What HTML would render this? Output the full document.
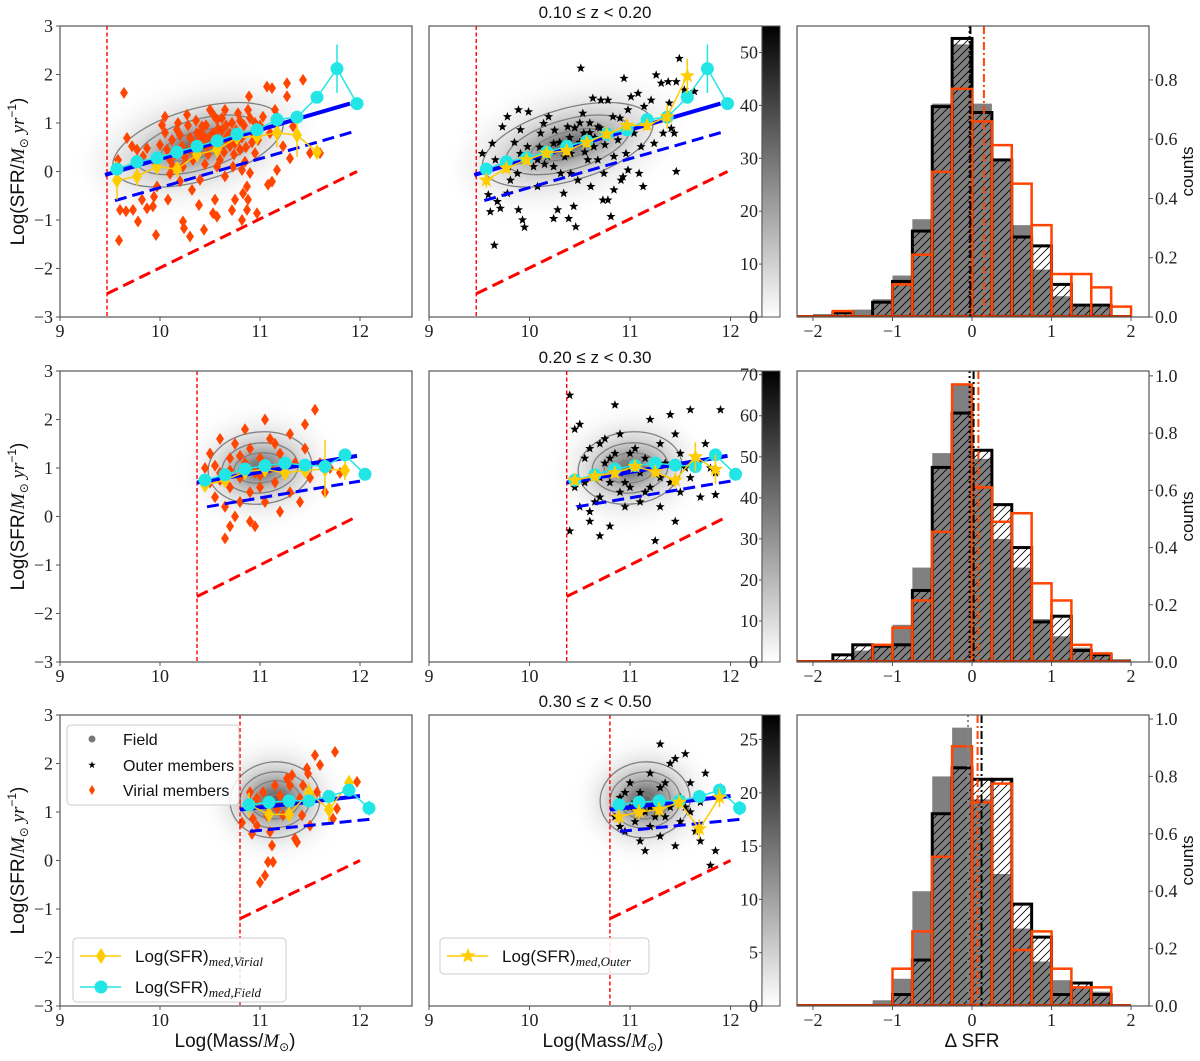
<!DOCTYPE html>
<html><head><meta charset="utf-8">
<style>
html,body{margin:0;padding:0;background:#fff;}
svg{display:block;}
text{font-family:"Liberation Serif",serif;}
.sans{font-family:"Liberation Sans","DejaVu Sans",sans-serif;}
</style></head>
<body>
<svg id="fig" width="1200" height="1061" viewBox="0 0 1200 1061" xmlns="http://www.w3.org/2000/svg">
<defs>
<pattern id="hatch" patternUnits="userSpaceOnUse" width="8" height="8">
<path d="M-2,10 L10,-2 M-2,2 L2,-2 M6,10 L10,6" stroke="#000" stroke-width="0.8"/>
</pattern>
<filter id="blur" x="-50%" y="-50%" width="200%" height="200%"><feGaussianBlur stdDeviation="9"/></filter>
<linearGradient id="cbar" x1="0" y1="1" x2="0" y2="0"><stop offset="0" stop-color="#fff"/><stop offset="1" stop-color="#000"/></linearGradient>
</defs>
</svg>
<script>
// ---------- data ----------
const rowTitles = ["0.10 ≤ z < 0.20","0.20 ≤ z < 0.30","0.30 ≤ z < 0.50"];
const massTicks = [9,10,11,12];
const sfrTicks = [-3,-2,-1,0,1,2,3];
const dsfrTicks = [-2,-1,0,1,2];
const countTicks = [[0,0.2,0.4,0.6,0.8],[0,0.2,0.4,0.6,0.8,1.0],[0,0.2,0.4,0.6,0.8,1.0]];
const cbarMax = [55,70.9,27.3];
const cbarTicks = [[0,10,20,30,40,50],[0,10,20,30,40,50,60,70],[0,5,10,15,20,25]];
const histStart = -2.25, histStep = 0.25;
const histYmax = [0.982,1.017,1.014];

const grayHist = [
 [0.005,0.01,0.02,0.025,0.06,0.14,0.33,0.72,0.92,0.72,0.53,0.31,0.16,0.07,0.035,0.035,0.005],
 [0,0,0.01,0.04,0.05,0.13,0.33,0.73,0.97,0.71,0.43,0.33,0.15,0.09,0.05,0.02,0.01],
 [0,0,0.003,0.007,0.02,0.095,0.4,0.8,0.97,0.72,0.46,0.27,0.155,0.09,0.065,0.05,0.005]];
const blackHist = [
 [0,0,0.015,0,0.05,0.12,0.29,0.71,0.94,0.69,0.53,0.27,0.24,0.11,0.04,0.04,0],
 [0,0,0.025,0.06,0.055,0.06,0.25,0.68,0.87,0.74,0.55,0.4,0.14,0.16,0.04,0.025,0],
 [0,0,0,0,0,0.04,0.16,0.67,0.83,0.79,0.79,0.355,0.24,0.04,0.08,0.04,0]];
const redHist = [
 [0,0,0.02,0,0,0.11,0.21,0.49,0.77,0.66,0.58,0.45,0.31,0.145,0.145,0.1,0.035],
 [0,0,0,0,0.06,0.12,0.215,0.455,0.97,0.61,0.49,0.52,0.275,0.215,0.06,0.03,0],
 [0,0,0,0,0,0.13,0.26,0.52,0.905,0.71,0.775,0.195,0.26,0.13,0.065,0.065,0]];
const fieldMed = [-0.03,-0.03,-0.05];
const outerMed = [-0.02,0.02,0.12];
const virialMed = [0.15,0.08,0.07];

const massLimit = [9.47,10.37,10.8];
const msSolid = [[9.45,-0.07,11.9,1.4],[10.37,0.7,11.97,1.25],[10.8,1.05,12.0,1.33]];
const msDashed = [[9.55,-0.6,11.95,0.83],[10.47,0.2,12.0,0.73],[10.9,0.6,12.1,0.85]];
const msRed = [[9.47,-2.52,11.97,0.0],[10.37,-1.65,11.97,0.0],[10.8,-1.2,12.0,0.0]];

const medX = [
 [9.57,9.77,9.97,10.17,10.37,10.57,10.77,10.97,11.17,11.37,11.57,11.77,11.97],
 [10.45,10.65,10.85,11.05,11.25,11.45,11.65,11.85,12.05],
 [10.89,11.09,11.29,11.49,11.69,11.89,12.09]];
const fieldMedY = [
 [0.05,0.2,0.28,0.4,0.52,0.63,0.77,0.86,1.07,1.12,1.53,2.12,1.4],
 [0.75,0.86,0.98,1.05,1.1,1.06,1.03,1.27,0.87],
 [1.15,1.2,1.23,1.23,1.32,1.45,1.08]];
const fieldMedErr = [
 [0.05,0.05,0.05,0.05,0.05,0.05,0.05,0.05,0.05,0.05,0.1,0.5,0.05],
 [0.05,0.05,0.05,0.05,0.05,0.05,0.05,0.1,0.05],
 [0.05,0.05,0.05,0.05,0.05,0.05,0.15]];
const virialMedY = [
 [-0.18,-0.1,0.1,0.05,0.35,0.45,0.7,0.72,0.8,0.75,0.4],
 [0.65,0.75,0.92,0.97,0.9,0.95,0.98,0.95],
 [1.15,0.95,0.95,1.4,1.05,1.6]];
const virialMedErr = [
 [0.4,0.2,0.15,0.15,0.1,0.15,0.1,0.15,0.3,0.45,0.1],
 [0.1,0.1,0.1,0.1,0.15,0.15,0.6,0.2],
 [0.25,0.15,0.15,0.2,0.25,0.15]];
const outerMedY = [
 [-0.18,0.07,0.24,0.38,0.43,0.6,0.77,0.95,0.95,1.13,1.97],
 [0.75,0.83,0.9,1.03,0.92,0.75,1.23,0.97],
 [0.9,1.0,1.05,1.2,0.65,1.3]];
const outerMedErr = [
 [0.15,0.1,0.1,0.1,0.1,0.1,0.1,0.1,0.1,0.25,0.35],
 [0.1,0.1,0.1,0.1,0.1,0.15,0.3,0.3],
 [0.15,0.15,0.15,0.15,0.2,0.2]];

const virialPts = [
 [[9.64,1.62],[9.67,0.69],[9.58,0.24],[9.6,-0.79],[9.59,-1.42],[9.66,-0.82],[9.73,-0.79],[9.78,-1.03],[9.72,0.52],[9.77,0.45],[9.83,0.31],[9.87,0.48],[9.82,-0.58],[9.87,-0.76],[9.93,-0.72],[9.94,-0.52],[9.96,-1.31],[9.97,-0.31],[10.02,0.96],[10.05,1.13],[10.07,0.45],[10.1,0.24],[10.13,0.1],[10.08,-0.58],[10.17,0.86],[10.18,1.0],[10.22,0.52],[10.23,0.1],[10.23,-1.03],[10.24,-1.17],[10.27,1.17],[10.3,-1.34],[10.32,-0.38],[10.33,0.24],[10.4,0.65],[10.42,0.93],[10.4,-0.17],[10.39,-0.69],[10.44,-1.2],[10.47,0.52],[10.5,1.27],[10.53,0.79],[10.57,1.07],[10.6,0.24],[10.55,-0.58],[10.53,-0.86],[10.57,-0.93],[10.65,1.27],[10.67,0.72],[10.7,0.52],[10.73,0.1],[10.72,-0.8],[10.75,-0.58],[10.78,1.2],[10.8,0.45],[10.82,0.03],[10.83,-0.45],[10.87,-0.79],[10.88,1.27],[10.89,1.55],[10.93,0.79],[10.95,0.38],[10.87,-0.31],[10.88,-0.58],[10.9,-0.03],[10.97,-0.86],[10.82,-1.0],[11.07,1.75],[11.12,1.72],[11.03,1.13],[11.1,0.79],[11.15,1.27],[11.17,0.03],[11.12,-0.21],[11.08,-0.27],[11.23,0.52],[11.27,1.82],[11.27,1.55],[11.33,0.93],[11.3,0.27],[11.43,1.89],[11.5,0.38],[11.6,0.38],[10.75,0.58],[10.57,0.1],[10.37,0.79],[10.45,0.7],[10.62,0.85],[10.35,0.55],[10.3,0.7],
  [10.12,0.65],[10.15,0.35],[10.2,0.75],[10.25,0.3],[10.28,0.95],[10.3,0.45],[10.33,0.6],[10.36,1.05],[10.38,0.4],[10.41,0.82],[10.43,0.55],[10.46,0.95],[10.48,0.35],[10.5,0.72],[10.52,0.58],[10.54,1.15],[10.56,0.45],[10.58,0.88],[10.6,0.62],[10.62,1.1],[10.64,0.4],[10.66,0.95],[10.68,0.6],[10.7,0.78],[10.72,1.0],[10.74,0.35],[10.76,0.85],[10.78,0.65],[10.8,1.05],[10.82,0.7],[10.84,0.95],[10.86,0.5],[10.9,1.1],[10.92,0.6],[10.95,1.0],[10.98,0.65],[11.0,0.95],[10.05,0.8],[10.0,0.55],[9.95,0.2],[10.1,-0.05],[10.2,-0.2],[10.45,0.15],[10.65,-0.1],[10.85,0.2]],
 [[10.45,1.0],[10.5,0.7],[10.5,1.3],[10.55,0.4],[10.6,1.6],[10.6,0.9],[10.65,0.2],[10.65,-0.45],[10.7,1.2],[10.7,0.6],[10.75,0.0],[10.75,1.5],[10.8,0.8],[10.8,0.3],[10.85,1.1],[10.85,1.8],[10.9,0.5],[10.9,1.4],[10.95,0.9],[10.95,-0.2],[11.0,1.2],[11.0,0.6],[11.05,2.0],[11.05,0.3],[11.1,1.0],[11.1,1.6],[11.15,0.7],[11.2,1.3],[11.2,0.1],[11.25,0.9],[11.3,1.7],[11.3,0.5],[11.35,1.1],[11.4,0.3],[11.45,1.4],[11.5,0.8],[11.55,2.2],[11.6,1.1],[11.65,0.5],[11.7,1.0],[11.8,0.9],[10.55,1.05],[10.6,0.75],[10.7,0.95],[10.8,1.25],[11.0,0.85],[10.9,-0.1],[10.7,-0.2],[11.45,1.9],[11.15,1.5]],
 [[10.82,0.78],[10.9,1.41],[10.93,1.17],[10.92,0.55],[10.97,0.72],[11.0,-0.45],[11.05,-0.31],[11.03,1.41],[11.07,0.93],[11.08,-0.03],[11.12,0.31],[11.13,-0.03],[11.1,0.59],[11.15,1.55],[11.2,1.34],[11.25,1.21],[11.27,1.69],[11.3,1.55],[11.32,1.76],[11.35,0.45],[11.37,0.38],[11.4,1.28],[11.42,0.93],[11.43,1.55],[11.47,1.9],[11.48,1.79],[11.5,0.72],[11.52,1.28],[11.55,2.17],[11.57,1.41],[11.6,1.97],[11.67,1.34],[11.73,0.86],[11.75,2.24],[11.77,1.07],[11.97,1.62],[11.17,1.07],[10.97,1.28],[11.23,0.93],[10.93,0.86]]];
const outerPts = [
 [[9.53,0.37],[9.59,-0.48],[9.61,-0.83],[9.65,-1.52],[9.68,-0.62],[9.71,-0.76],[9.66,0.24],[9.63,0.58],[9.73,0.92],[9.78,1.13],[9.79,0.1],[9.81,-0.18],[9.88,-0.04],[9.89,-0.79],[9.93,-1.0],[9.95,-1.15],[9.91,0.37],[9.98,0.51],[9.99,1.23],[9.89,1.27],[10.04,0.1],[10.08,-0.31],[10.11,0.79],[10.14,0.99],[10.18,0.31],[10.19,1.13],[10.24,0.58],[10.24,-0.97],[10.28,-0.79],[10.31,-0.04],[10.34,-0.45],[10.38,0.92],[10.39,-0.97],[10.41,0.37],[10.44,-0.72],[10.46,-1.14],[10.48,-0.18],[10.51,2.13],[10.53,1.2],[10.54,0.79],[10.58,0.24],[10.61,-0.31],[10.63,1.51],[10.64,0.51],[10.68,0.92],[10.71,1.47],[10.74,-0.04],[10.78,-0.59],[10.78,1.47],[10.83,1.13],[10.84,0.31],[10.88,0.65],[10.91,-0.18],[10.93,-0.11],[10.94,1.92],[10.96,0.37],[10.98,1.27],[11.01,1.54],[11.04,0.79],[11.08,1.61],[11.09,-0.04],[11.11,0.51],[11.13,-0.31],[11.14,1.34],[11.18,1.06],[11.21,1.47],[11.24,0.58],[11.26,1.99],[11.31,1.82],[11.33,0.79],[11.38,1.85],[11.39,1.41],[11.41,0.89],[11.44,0.79],[11.46,1.85],[11.46,0.0],[11.49,2.33],[11.54,1.68],[11.64,1.65],[10.81,-0.93],[9.91,0.86],[10.08,0.24],[10.41,-0.04],[10.68,0.24],[10.98,0.03],[10.51,0.58],[10.24,0.1],[9.78,-0.45],[10.84,-0.38],[10.73,-0.59],[10.3,0.6],[10.4,0.7],[10.5,0.6],[10.2,0.4],[10.6,0.8],[10.35,0.3],[10.45,0.9],[10.55,0.4],[10.65,0.7],[10.7,0.9],[10.1,0.5],[10.0,0.3],[10.25,0.85],[10.6,1.0],[10.8,0.8],[10.9,1.1],[10.75,0.55],[10.15,0.15],[9.85,0.6],[10.5,1.0]],
 [[10.4,2.5],[10.45,1.8],[10.5,1.9],[10.5,0.2],[10.45,0.6],[10.55,1.2],[10.6,0.1],[10.6,-0.1],[10.65,0.9],[10.7,1.5],[10.7,0.4],[10.75,1.1],[10.8,0.7],[10.8,-0.2],[10.85,1.3],[10.9,0.5],[10.9,1.7],[10.95,0.2],[11.0,1.0],[11.0,0.6],[11.05,1.4],[11.1,0.3],[11.1,0.9],[11.15,1.2],[11.2,0.6],[11.2,2.0],[11.25,0.9],[11.3,0.2],[11.3,1.5],[11.35,1.1],[11.4,0.7],[11.4,2.1],[11.45,-0.1],[11.5,1.3],[11.5,0.5],[11.55,1.0],[11.6,2.2],[11.6,0.8],[11.65,1.2],[11.7,0.4],[11.75,1.5],[11.8,1.0],[11.85,0.9],[11.9,2.2],[10.6,1.4],[10.7,0.8],[10.8,1.2],[10.9,0.9],[11.0,1.3],[10.55,0.7],[10.65,0.3],[10.95,0.7],[11.05,1.0],[10.75,1.6],[11.15,0.5],[10.85,2.3],[10.4,-0.3],[10.7,-0.4],[11.3,0.8],[11.45,1.7],[11.85,0.45],[11.25,-0.5]],
 [[10.85,0.9],[10.9,1.3],[10.95,0.6],[11.0,1.1],[11.0,1.6],[11.05,0.8],[11.1,1.4],[11.1,0.4],[11.15,1.0],[11.2,1.8],[11.2,0.7],[11.25,1.2],[11.3,0.5],[11.3,1.5],[11.35,0.9],[11.4,2.0],[11.4,1.1],[11.45,0.3],[11.5,1.3],[11.5,0.8],[11.55,2.2],[11.6,1.0],[11.6,1.6],[11.65,0.6],[11.7,1.2],[11.75,1.8],[11.8,-0.1],[11.85,0.2],[11.9,1.5],[11.3,2.4],[11.45,2.1],[10.95,1.4],[11.05,1.2],[11.15,0.2],[11.25,0.9],[11.35,1.6],[11.55,1.1],[11.7,0.4],[10.9,0.7],[11.2,1.1]]];
const densityCenter = [[10.38,0.55],[11.0,1.0],[11.15,1.25]];

// ---------- helpers ----------
const NS='http://www.w3.org/2000/svg';
const svg=document.getElementById('fig');
function mk(tag, attrs, parent){const e=document.createElementNS(NS,tag);for(const k in attrs)e.setAttribute(k,attrs[k]);(parent||svg).appendChild(e);return e;}
const rowTop=[26,371,715], H=291;
const cols=[{x0:60,w:352,xmin:9,xmax:12.52},{x0:429,w:333,xmin:9,xmax:12.313},{x0:797,w:352,xmin:-2.201,xmax:2.226}];
function sxF(c){return v=>c.x0+(v-c.xmin)/(c.xmax-c.xmin)*c.w;}
function syF(r,ymin,ymax){return v=>rowTop[r]+H-(v-ymin)/(ymax-ymin)*H;}
function diamond(cx,cy,w,h){return `M${cx},${cy-h/2}L${cx+w/2},${cy}L${cx},${cy+h/2}L${cx-w/2},${cy}Z`;}
function star(cx,cy,R){let d='';for(let i=0;i<10;i++){const r=i%2?R*0.42:R;const a=-Math.PI/2+i*Math.PI/5;d+=(i?'L':'M')+(cx+r*Math.cos(a)).toFixed(1)+','+(cy+r*Math.sin(a)).toFixed(1);}return d+'Z';}

function frame(c,r,g){
  const f=mk('rect',{x:c.x0,y:rowTop[r],width:c.w,height:H,fill:'none',stroke:'#555','stroke-width':1.2},g);
  
  
}
function clip(id,c,r){const cp=mk('clipPath',{id:id},svg.querySelector('defs'));mk('rect',{x:c.x0,y:rowTop[r],width:c.w,height:H},cp);}

function drawDensity(g,sx,sy,r){
  const [cx0,cy0]=densityCenter[r];
  const cx=sx(cx0), cy=sy(cy0);
  const sets=[
    {rot:-16,blobs:[[110,55,'#f3f3f3'],[85,38,'#dddddd'],[60,24,'#b5b5b5'],[35,12,'#6a6a6a'],[16,6,'#222']],cont:[[88,36],[64,25],[38,13]]},
    {rot:-6,blobs:[[65,50,'#f0f0f0'],[48,34,'#d4d4d4'],[32,20,'#9a9a9a'],[15,9,'#3a3a3a']],cont:[[52,36],[38,25],[26,15],[14,8]]},
    {rot:-5,blobs:[[58,52,'#f0f0f0'],[42,36,'#cccccc'],[28,22,'#888'],[12,9,'#111']],cont:[[45,38],[35,28],[25,19],[15,11],[7,5]]}][r];
  const bg=mk('g',{filter:'url(#blur)',transform:`rotate(${sets.rot} ${cx} ${cy})`},g);
  
  
  sets.blobs.forEach(b=>mk('ellipse',{cx:cx,cy:cy,rx:b[0],ry:b[1],fill:b[2]},bg));
  const cg=mk('g',{transform:`rotate(${sets.rot} ${cx} ${cy})`},g);
  
  
  sets.cont.forEach(b=>mk('ellipse',{cx:cx,cy:cy,rx:b[0],ry:b[1],fill:'none',stroke:'#808080','stroke-width':1.3},cg));
}

function drawLines(g,sx,sy,r){
  const v=mk('line',{x1:sx(massLimit[r]),x2:sx(massLimit[r]),y1:rowTop[r],y2:rowTop[r]+H,stroke:'#ff0000','stroke-width':1.4,'stroke-dasharray':'4,2.5'},g);
  
  
  const specs=[[msSolid[r],'#0000ff',4,'none','main-sequence-fit'],[msDashed[r],'#0000ff',3,'12,6','main-sequence-lower'],[msRed[r],'#ff0000',3,'12,6','quiescent-boundary']];
  specs.forEach(s=>{
    const l=mk('line',{x1:sx(s[0][0]),y1:sy(s[0][1]),x2:sx(s[0][2]),y2:sy(s[0][3]),stroke:s[1],'stroke-width':s[2],'stroke-dasharray':s[3]},g);
    
    
  });
}

function drawMedian(g,sx,sy,xs,ys,es,color,marker,name){
  const n=ys.length;
  let d='';
  for(let i=0;i<n;i++)d+=(i?'L':'M')+sx(xs[i])+','+sy(ys[i]);
  const p=mk('path',{d:d,fill:'none',stroke:color,'stroke-width':1.5},g);
  
  
  for(let i=0;i<n;i++){
    const x=sx(xs[i]),y=sy(ys[i]);
    const eb=mk('line',{x1:x,x2:x,y1:sy(ys[i]+es[i]),y2:sy(ys[i]-es[i]),stroke:color,'stroke-width':1.5},g);
    
    
    let m;
    if(marker==='circle')m=mk('circle',{cx:x,cy:y,r:6.5,fill:color},g);
    else if(marker==='diamond')m=mk('path',{d:diamond(x,y,10,16),fill:color},g);
    else m=mk('path',{d:star(x,y,8),fill:color},g);
    
    
  }
}

function xTicks(c,r,ticks,sx,g){
  ticks.forEach(t=>{
    const x=sx(t),y=rowTop[r]+H;
    mk('line',{x1:x,x2:x,y1:y,y2:y+4,stroke:'#555'},g);
    const tx=mk('text',{x:x,y:y+20,'font-size':18,'text-anchor':'middle',fill:'#222'},g);
    tx.textContent=(t<0?'−':'')+Math.abs(t);
    
    
  });
}

// ---------- scatter panels ----------
for(let r=0;r<3;r++){
  for(let ci=0;ci<2;ci++){
    const c=cols[ci];
    const sx=sxF(c), sy=syF(r,-3,3);
    const g=mk('g',{});
    
    
    const cid='clip'+r+ci; clip(cid,c,r);
    const inner=mk('g',{'clip-path':`url(#${cid})`},g);
    drawDensity(inner,sx,sy,r);
    const pts=ci===0?virialPts[r]:outerPts[r];
    pts.forEach(p=>{
      const m=ci===0?mk('path',{d:diamond(sx(p[0]),sy(p[1]),8,12),fill:'#ff4500'},inner):mk('path',{d:star(sx(p[0]),sy(p[1]),4.8),fill:'#000'},inner);
      
      
    });
    drawLines(inner,sx,sy,r);
    if(ci===0){
      drawMedian(inner,sx,sy,medX[r],virialMedY[r],virialMedErr[r],'#ffcc00','diamond','virial-median');
      drawMedian(inner,sx,sy,medX[r],fieldMedY[r],fieldMedErr[r],'#22e6e6','circle','field-median');
    }else{
      drawMedian(inner,sx,sy,medX[r],fieldMedY[r],fieldMedErr[r],'#22e6e6','circle','field-median');
      drawMedian(inner,sx,sy,medX[r],outerMedY[r],outerMedErr[r],'#ffcc00','star','outer-median');
    }
    frame(c,r,g);
    xTicks(c,r,massTicks,sx,g);
    if(ci===0){
      sfrTicks.forEach(t=>{
        const y=sy(t);
        mk('line',{x1:c.x0-4,x2:c.x0,y1:y,y2:y,stroke:'#555'},g);
        const tx=mk('text',{x:c.x0-7,y:y+6,'font-size':18,'text-anchor':'end',fill:'#222'},g);
        tx.textContent=(t<0?'−':'')+Math.abs(t);
        
        
      });
      const yl=mk('text',{transform:`translate(24 ${rowTop[r]+H/2}) rotate(-90)`,'text-anchor':'middle','font-size':19,fill:'#111',class:'sans'},g);
      yl.innerHTML='Log(SFR/<tspan font-family="Liberation Serif" font-style="italic">M</tspan><tspan font-size="12" dy="4">⊙</tspan><tspan dy="-4" font-family="Liberation Serif" font-style="italic"> yr</tspan><tspan font-size="12" dy="-8">−1</tspan><tspan dy="8">)</tspan>';
      
      
    }else{
      const cb=mk('rect',{x:762,y:rowTop[r],width:18,height:H,fill:'url(#cbar)',stroke:'#555','stroke-width':1},g);
      
      
      cbarTicks[r].forEach(t=>{
        const y=rowTop[r]+H-t/cbarMax[r]*H;
        mk('line',{x1:759,x2:762,y1:y,y2:y,stroke:'#555'},g);
        const tx=mk('text',{x:758,y:y+6,'font-size':18,'text-anchor':'end',fill:'#222'},g);
        tx.textContent=t;
        
        
      });
      const tt=mk('text',{x:595,y:rowTop[r]-8,'font-size':17,'text-anchor':'middle',fill:'#111',class:'sans'},g);
      tt.textContent=rowTitles[r];
      
      
    }
  }
}

// ---------- histograms ----------
for(let r=0;r<3;r++){
  const c=cols[2];
  const sx=sxF(c), sy=syF(r,0,histYmax[r]);
  const g=mk('g',{});
  
  
  const cid='hclip'+r; clip(cid,c,r);
  const inner=mk('g',{'clip-path':`url(#${cid})`},g);
  const base=sy(0);
  grayHist[r].forEach((v,i)=>{ if(v<=0)return;
    const x0=sx(histStart+i*histStep), x1=sx(histStart+(i+1)*histStep);
    const b=mk('rect',{x:x0,y:sy(v),width:x1-x0,height:base-sy(v),fill:'#808080'},inner);
    
    
  });
  blackHist[r].forEach((v,i)=>{ if(v<=0)return;
    const x0=sx(histStart+i*histStep), x1=sx(histStart+(i+1)*histStep);
    const b=mk('rect',{x:x0,y:sy(v),width:x1-x0,height:base-sy(v),fill:'url(#hatch)',stroke:'#000','stroke-width':3},inner);
    
    
  });
  redHist[r].forEach((v,i)=>{ if(v<=0)return;
    const x0=sx(histStart+i*histStep), x1=sx(histStart+(i+1)*histStep);
    const b=mk('rect',{x:x0,y:sy(v),width:x1-x0,height:base-sy(v),fill:'none',stroke:'#ff4500','stroke-width':2.5},inner);
    
    
  });
  const bl=mk('line',{x1:c.x0,x2:sx(2.0),y1:base-1,y2:base-1,stroke:'#c03000','stroke-width':2},inner);
  
  
  [[fieldMed[r],r===2?'#888':'#000','2,3','field-median-line'],[outerMed[r],'#000','8,3,2,3','outer-median-line'],[virialMed[r],'#ff4500','8,3,2,3','virial-median-line']].forEach(s=>{
    const l=mk('line',{x1:sx(s[0]),x2:sx(s[0]),y1:rowTop[r],y2:base,stroke:s[1],'stroke-width':2,'stroke-dasharray':s[2]},inner);
    
    
  });
  frame(c,r,g);
  xTicks(c,r,dsfrTicks,sx,g);
  countTicks[r].forEach(t=>{
    const y=sy(t), x=c.x0+c.w;
    mk('line',{x1:x,x2:x+4,y1:y,y2:y,stroke:'#555'},g);
    const tx=mk('text',{x:x+6,y:y+6,'font-size':18,'text-anchor':'start',fill:'#222'},g);
    tx.textContent=t.toFixed(1);
    
    
  });
  const yl=mk('text',{transform:`translate(1193 ${rowTop[r]+H/2}) rotate(-90)`,'text-anchor':'middle','font-size':17,fill:'#111',class:'sans'},g);
  yl.textContent='counts';
  
  
}

// ---------- axis titles ----------
[[235,'x-axis-title-virial'],[603,'x-axis-title-outer']].forEach(a=>{
  const t=mk('text',{x:a[0],y:1047,'font-size':19,'text-anchor':'middle',fill:'#111',class:'sans'});
  t.innerHTML='Log(Mass/<tspan font-family="Liberation Serif" font-style="italic">M</tspan><tspan font-size="12" dy="4">⊙</tspan><tspan dy="-4">)</tspan>';
  
  
});
{const t=mk('text',{x:972,y:1047,'font-size':19,'text-anchor':'middle',fill:'#111',class:'sans'});
t.textContent='Δ SFR';

}

// ---------- legends ----------
function legendBox(x,y,w,h,name){const b=mk('rect',{x:x,y:y,width:w,height:h,rx:4,fill:'#fff','fill-opacity':0.85,stroke:'#ccc'});return b;}
legendBox(67,725,172,80,'population-legend');
[['Field','dot',739],['Outer members','star',765],['Virial members','diamond',790]].forEach(e=>{
  let m;
  if(e[1]==='dot')m=mk('circle',{cx:92,cy:e[2],r:3.5,fill:'#777'});
  else if(e[1]==='star')m=mk('path',{d:star(92,e[2],3.8),fill:'#000'});
  else m=mk('path',{d:diamond(92,e[2],6,10),fill:'#ff4500'});
  
  
  const t=mk('text',{x:123,y:e[2]+6,'font-size':16,fill:'#111',class:'sans'});
  t.textContent=e[0];
  
  
});
legendBox(73,938,213,64,'median-legend');
[['Virial','#ffcc00','diamond',956],['Field','#22e6e6','circle',987]].forEach(e=>{
  mk('line',{x1:80,x2:121,y1:e[3],y2:e[3],stroke:e[1],'stroke-width':1.5});
  const m=e[2]==='circle'?mk('circle',{cx:101,cy:e[3],r:6.5,fill:e[1]}):mk('path',{d:diamond(101,e[3],10,16),fill:e[1]});
  
  
  const t=mk('text',{x:135,y:e[3]+6,'font-size':17,fill:'#111',class:'sans'});
  t.innerHTML='Log(SFR)<tspan font-family="Liberation Serif" font-style="italic" font-size="13" dy="4">med,'+e[0]+'</tspan>';
  
  
});
legendBox(440,938,209,36,'outer-median-legend');
{mk('line',{x1:447,x2:488,y1:956,y2:956,stroke:'#ffcc00','stroke-width':1.5});
const m=mk('path',{d:star(468,956,8),fill:'#ffcc00'});


const t=mk('text',{x:502,y:962,'font-size':17,fill:'#111',class:'sans'});
t.innerHTML='Log(SFR)<tspan font-family="Liberation Serif" font-style="italic" font-size="13" dy="4">med,Outer</tspan>';

}
</script>
</body></html>
